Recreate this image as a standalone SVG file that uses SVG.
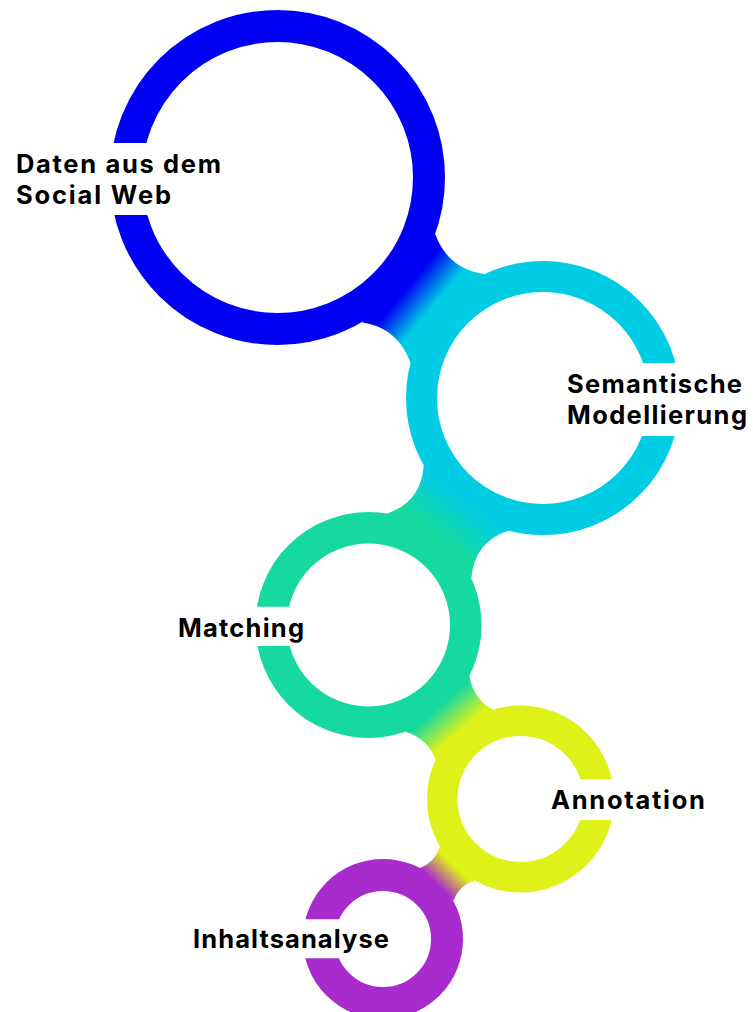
<svg xmlns="http://www.w3.org/2000/svg" width="753" height="1012" viewBox="0 0 753 1012">
  <style>
    .ring { fill: none; }
    .label { font-family: Inter, "Noto Sans", "DejaVu Sans", sans-serif; font-weight: 700; font-size: 25.5px; fill: #000000; }
  </style>
  <defs>
    <clipPath id="cut1"><path clip-rule="evenodd" d="M0 0H753V1012H0Z M90 143H160V215H90Z"/></clipPath>
    <clipPath id="cut2"><path clip-rule="evenodd" d="M0 0H753V1012H0Z M635 363H700V436H635Z"/></clipPath>
    <clipPath id="cut3"><path clip-rule="evenodd" d="M0 0H753V1012H0Z M240 606.7H300V646H240Z"/></clipPath>
    <clipPath id="cut4"><path clip-rule="evenodd" d="M0 0H753V1012H0Z M570 779.3H630V820H570Z"/></clipPath>
    <clipPath id="cut5"><path clip-rule="evenodd" d="M0 0H753V1012H0Z M290 919.3H345V958.3H290Z"/></clipPath>
    <linearGradient id="g12" gradientUnits="userSpaceOnUse" x1="408.3" y1="286.1" x2="432.9" y2="306.6">
      <stop offset="0" stop-color="#0000F2"/>
      <stop offset="1" stop-color="#00CCE4"/>
    </linearGradient>
    <linearGradient id="g23" gradientUnits="userSpaceOnUse" x1="465.0" y1="499.5" x2="438.2" y2="534.4">
      <stop offset="0" stop-color="#00CCE4"/>
      <stop offset="1" stop-color="#16D9A0"/>
    </linearGradient>
    <linearGradient id="g34" gradientUnits="userSpaceOnUse" x1="439.6" y1="706.3" x2="460.6" y2="730.4">
      <stop offset="0" stop-color="#16D9A0"/>
      <stop offset="1" stop-color="#DEF21A"/>
    </linearGradient>
    <linearGradient id="g45" gradientUnits="userSpaceOnUse" x1="454.6" y1="866.1" x2="436.4" y2="884.6">
      <stop offset="0" stop-color="#DEF21A"/>
      <stop offset="1" stop-color="#A82CCD"/>
    </linearGradient>
  </defs>

  <g id="node-daten">
    <circle class="ring" cx="277.5" cy="177.5" r="151.5" stroke="#0000F2" stroke-width="32" clip-path="url(#cut1)"/>
    <text class="label" x="16" y="173.3" textLength="205" lengthAdjust="spacing">Daten aus dem</text>
    <text class="label" x="16" y="204" textLength="155" lengthAdjust="spacing">Social Web</text>
  </g>

  <g id="node-semantische">
    <circle class="ring" cx="543" cy="398" r="121.5" stroke="#00CCE4" stroke-width="31" clip-path="url(#cut2)"/>
    <text class="label" x="567" y="392.7" textLength="175" lengthAdjust="spacing">Semantische</text>
    <text class="label" x="567" y="424" textLength="180" lengthAdjust="spacing">Modellierung</text>
  </g>

  <g id="node-matching">
    <circle class="ring" cx="368.5" cy="625" r="97.25" stroke="#16D9A0" stroke-width="31.5" clip-path="url(#cut3)"/>
    <text class="label" x="178" y="636.7" textLength="126" lengthAdjust="spacing">Matching</text>
  </g>

  <g id="node-annotation">
    <circle class="ring" cx="520.5" cy="799" r="78.25" stroke="#DEF21A" stroke-width="30.5" clip-path="url(#cut4)"/>
    <text class="label" x="551" y="809.3" textLength="154" lengthAdjust="spacing">Annotation</text>
  </g>

  <g id="node-inhaltsanalyse">
    <circle class="ring" cx="383" cy="939" r="64" stroke="#A82CCD" stroke-width="32" clip-path="url(#cut5)"/>
    <text class="label" x="193" y="948.3" textLength="196" lengthAdjust="spacing">Inhaltsanalyse</text>
  </g>

  <g id="connectors">
    <path fill="url(#g12)" d="M362.0 322.2 Q398.4 328.0 410.5 363.1 L484.5 274.1 Q447.7 268.7 435.2 234.0 Z"/>
    <path fill="url(#g23)" d="M423.7 465.4 Q421.3 501.6 387.2 513.5 L471.4 578.3 Q474.1 542.3 508.5 530.6 Z"/>
    <path fill="url(#g34)" d="M405.6 731.7 Q428.2 739.1 435.7 759.7 L492.9 709.7 Q473.6 699.5 469.4 676.1 Z"/>
    <path fill="url(#g45)" d="M439.9 846.4 Q434.9 862.1 419.9 868.0 L453.3 900.8 Q458.9 885.7 474.5 880.4 Z"/>
  </g>
</svg>
